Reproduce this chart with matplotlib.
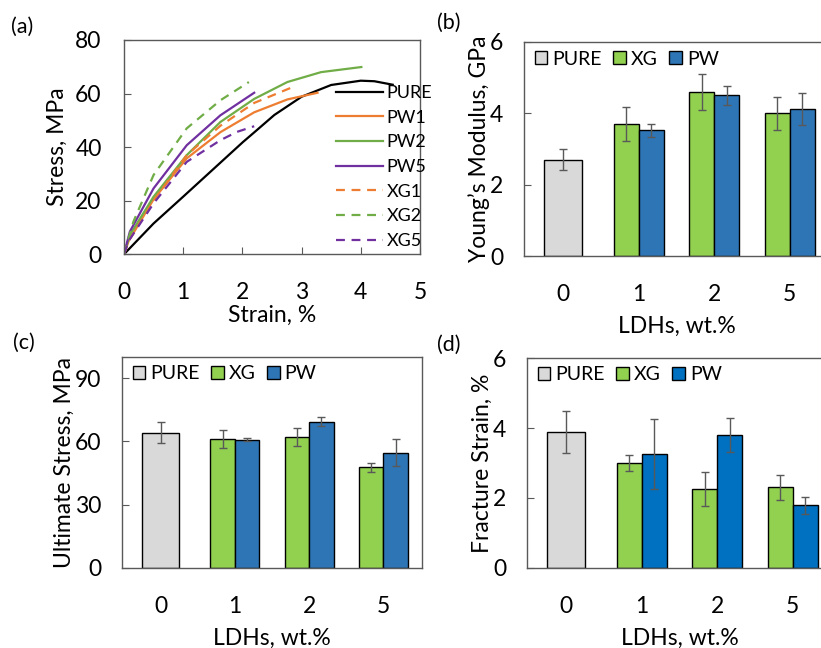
import matplotlib
matplotlib.use("Agg")
import matplotlib.pyplot as plt
import numpy as np

plt.rcParams['font.family'] = ['Lato', 'DejaVu Sans']

# ------ (a) stress-strain curves --------------
pure_x = [0, 0.5, 1.0, 1.52, 2.01, 2.2, 2.54, 3.0, 3.5, 4.0, 4.23, 4.54]
pure_y = [0, 11.5, 21.5, 32, 41.9, 45.5, 52, 58.8, 63.2, 64.8, 64.6, 63.3]
pw1_x = [0, 0.08, 0.5, 1.06, 1.63, 2.2, 2.76, 3.27]
pw1_y = [0, 5, 20.5, 35.8, 45.6, 53, 57.8, 60.3]
pw2_x = [0, 0.1, 0.5, 1.06, 1.63, 2.2, 2.76, 3.33, 4.01]
pw2_y = [0, 7.2, 21.5, 37, 49.4, 58, 64.3, 68, 69.9]
pw5_x = [0, 0.1, 0.5, 1.06, 1.63, 2.2]
pw5_y = [0, 8.5, 24.6, 40.7, 51.9, 60.3]
xg1_x = [0, 0.08, 0.5, 1.06, 1.63, 2.2, 2.87]
xg1_y = [0, 5, 20, 37, 48, 56.5, 62.6]
xg2_x = [0, 0.16, 0.5, 1.06, 1.63, 2.11]
xg2_y = [0, 12.2, 29.6, 47, 57.5, 64.3]
xg5_x = [0, 0.08, 0.5, 1.06, 1.63, 1.91, 2.2]
xg5_y = [0, 5, 19, 34.5, 42.6, 45.7, 47.8]

# ------ bar data --------------
categories = ['0', '1', '2', '5']
mod_pure, mod_pure_err = 2.7, 0.3
mod_xg = [3.7, 4.6, 4.0]
mod_xg_err = [0.47, 0.51, 0.47]
mod_pw = [3.52, 4.5, 4.12]
mod_pw_err = [0.18, 0.28, 0.46]

str_pure, str_pure_err = 64.2, 5.0
str_xg = [61.2, 62.2, 47.7]
str_xg_err = [4.3, 4.2, 2.0]
str_pw = [60.8, 69.4, 54.7]
str_pw_err = [0.8, 2.0, 6.6]

fs_pure, fs_pure_err = 3.89, 0.6
fs_xg = [3.0, 2.25, 2.3]
fs_xg_err = [0.24, 0.48, 0.37]
fs_pw = [3.25, 3.8, 1.79]
fs_pw_err = [1.0, 0.5, 0.25]

SPINE = '#595959'
ORANGE = '#ED7D31'
GREEN = '#70AD47'
PURPLE = '#7030A0'
FS = 16.5

fig = plt.figure(figsize=(8.21, 6.48), dpi=100)


def style_axes(ax):
	for s in ax.spines.values():
		s.set_color(SPINE)
		s.set_linewidth(1.0)
	ax.tick_params(direction='in', length=5, width=0.8, color=SPINE,
				   labelsize=FS, pad=16)


# ------ panel (a) --------------
ax = fig.add_axes([0.151, 0.6076, 0.3605, 0.3307])
ax.plot(pure_x, pure_y, color='black', lw=1.6, label='PURE')
ax.plot(pw1_x, pw1_y, color=ORANGE, lw=1.6, label='PW1')
ax.plot(pw2_x, pw2_y, color=GREEN, lw=1.6, label='PW2')
ax.plot(pw5_x, pw5_y, color=PURPLE, lw=1.6, label='PW5')
ax.plot(xg1_x, xg1_y, color=ORANGE, lw=1.6, ls=(0, (4, 3)), label='XG1')
ax.plot(xg2_x, xg2_y, color=GREEN, lw=1.6, ls=(0, (4, 3)), label='XG2')
ax.plot(xg5_x, xg5_y, color=PURPLE, lw=1.6, ls=(0, (4, 3)), label='XG5')
ax.set_xlim(0, 5)
ax.set_ylim(0, 80)
ax.set_xticks(range(6))
ax.set_yticks(range(0, 81, 20))
style_axes(ax)
ax.tick_params(axis='x', pad=20)
ax.set_xlabel('Strain, %', fontsize=FS, labelpad=1)
ax.set_ylabel('Stress, MPa', fontsize=FS, labelpad=5)
ax.legend(loc='upper left', bbox_to_anchor=(0.716, 0.79), frameon=False,
		  fontsize=13, handlelength=2.6, handletextpad=0.2,
		  labelspacing=0.48, borderpad=0, borderaxespad=0)
fig.text(0.013, 0.958, '(a)', fontsize=15.5, va='center')


# ------ bar panels --------------
def bar_panel(rect, pure, pure_err, xg, xg_err, pw, pw_err, pw_color,
			  ylim, yticks, ylabel, tag, tag_pos):
	ax = fig.add_axes(rect)
	x = np.arange(len(categories))
	ek = dict(ecolor='#595959', elinewidth=1.0, capsize=3, capthick=1.0)
	ax.bar(x[0], pure, 0.5, yerr=pure_err, color='#D9D9D9',
		   edgecolor='black', linewidth=1.0, label='PURE', error_kw=ek, zorder=2)
	ax.bar(x[1:] - 0.165, xg, 0.33, yerr=xg_err, color='#92D050',
		   edgecolor='black', linewidth=1.0, label='XG', error_kw=ek, zorder=2)
	ax.bar(x[1:] + 0.165, pw, 0.33, yerr=pw_err, color=pw_color,
		   edgecolor='black', linewidth=1.0, label='PW', error_kw=ek, zorder=2)
	ax.set_xlim(-0.52, 3.52)
	ax.set_ylim(*ylim)
	ax.set_yticks(yticks)
	ax.set_xticks(x)
	ax.set_xticklabels(categories)
	style_axes(ax)
	ax.tick_params(axis='x', length=0, pad=20)
	ax.tick_params(axis='y', pad=15)
	ax.set_xlabel('LDHs, wt.%', fontsize=FS, labelpad=8)
	ax.set_ylabel(ylabel, fontsize=FS, labelpad=0)
	ax.legend(loc='upper left', ncol=3, frameon=False, fontsize=14,
			  handlelength=0.65, handleheight=0.65, handletextpad=0.25,
			  columnspacing=0.6, borderpad=0, borderaxespad=0,
			  bbox_to_anchor=(0.035, 0.96))
	fig.text(tag_pos[0], tag_pos[1], tag, fontsize=15.5, va='center')
	return ax


bar_panel([0.6382, 0.6049, 0.3715, 0.3303], mod_pure, mod_pure_err,
		  mod_xg, mod_xg_err, mod_pw, mod_pw_err, '#2E75B6',
		  (0, 6), [0, 2, 4, 6], 'Young\u2019s Modulus, GPa', '(b)', (0.532, 0.964))
bar_panel([0.1486, 0.1235, 0.3654, 0.3256], str_pure, str_pure_err,
		  str_xg, str_xg_err, str_pw, str_pw_err, '#2E75B6',
		  (0, 100), [0, 30, 60, 90], 'Ultimate Stress, MPa', '(c)', (0.016, 0.471))
bar_panel([0.6419, 0.1235, 0.3715, 0.324], fs_pure, fs_pure_err,
		  fs_xg, fs_xg_err, fs_pw, fs_pw_err, '#0070C0',
		  (0, 6), [0, 2, 4, 6], 'Fracture Strain, %', '(d)', (0.532, 0.468))

fig.savefig('out.png', dpi=100)
